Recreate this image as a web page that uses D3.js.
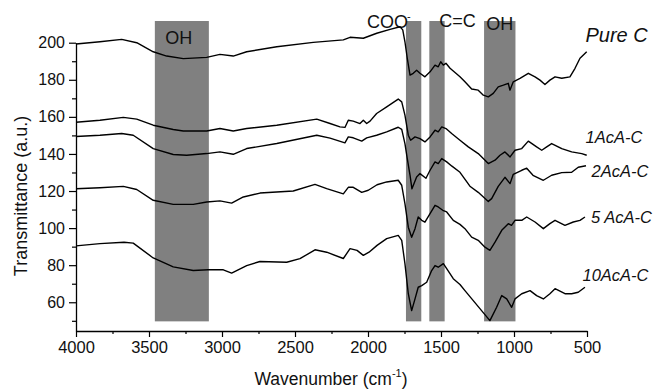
<!DOCTYPE html>
<html>
<head>
<meta charset="utf-8">
<script src="https://cdn.jsdelivr.net/npm/d3@7"></script>
<style>
  html, body { margin: 0; padding: 0; background: #fff; }
  svg { display: block; font-family: "Liberation Sans", Arial, sans-serif; }
</style>
</head>
<body>
<svg id="chart" width="654" height="389"></svg>
<script>
// ---- Data (wavenumber cm^-1, transmittance a.u.) ----
const pureC = [[4000,199.3],[3836,200.5],[3687,201.8],[3584,200],[3471,195.1],[3379,192.8],[3265,191.4],[3105,192.1],[3014,193.7],[2923,192.8],[2831,195.1],[2625,197.8],[2375,200.2],[2169,201.5],[2123,202.9],[2032,202.4],[1940,205.1],[1849,207.2],[1781,208.6],[1762,206.9],[1747,200.5],[1731,191.6],[1712,182.5],[1690,183.5],[1667,185.2],[1644,183.5],[1610,181.6],[1575,184.3],[1541,187.9],[1519,187],[1502,189.7],[1484,187.9],[1466,188.9],[1438,186.2],[1370,181.6],[1336,178.9],[1290,175],[1245,174.4],[1210,171.7],[1176,170.8],[1142,172.7],[1108,176.2],[1073,177.1],[1039,178.1],[1028,174.4],[1005,178.9],[959,180.8],[902,183.5],[856,181.6],[822,179.8],[788,177.5],[754,179.8],[719,181.6],[673,180.8],[617,181.6],[582,186.2],[548,191.6],[502,195.1]];

const acA1 = [[4000,157.1],[3836,158.2],[3676,159.7],[3584,158.8],[3471,155.5],[3334,153.2],[3265,152.4],[3105,152.4],[3014,153.7],[2923,152.4],[2831,153.7],[2625,155.5],[2351,158.8],[2260,156.4],[2192,154.6],[2158,154.3],[2135,158.2],[2101,157.7],[2055,156.4],[2032,158.2],[2009,156.4],[1986,157.7],[1941,161.8],[1872,165.4],[1793,169.6],[1769,168.1],[1747,160.9],[1724,150.1],[1708,147.4],[1678,149.2],[1644,148.3],[1610,146.5],[1575,149.2],[1541,152.8],[1519,151.9],[1495,154.6],[1466,153.7],[1427,151],[1370,147.4],[1313,143.8],[1245,140.2],[1176,134.8],[1130,136.6],[1096,139.3],[1062,141.1],[1027,138.4],[993,142],[947,142.9],[902,146.9],[845,143.8],[810,142],[776,143.8],[742,145.6],[673,142.9],[605,141.1],[536,140.2],[502,139.3]];

const acA2 = [[4000,149.4],[3836,150.1],[3687,151],[3608,150.1],[3471,142.9],[3334,139.7],[3242,139.3],[3105,140.2],[3014,141.1],[2923,139.8],[2831,142.9],[2625,145.6],[2351,150.1],[2260,148.5],[2158,146],[2135,149.2],[2101,148.7],[2043,146.9],[2009,148.7],[1941,150.1],[1872,151.9],[1793,154.4],[1769,153.3],[1747,145.6],[1731,137.5],[1712,128.5],[1699,121.2],[1667,127.6],[1644,129.4],[1603,126.9],[1575,131.2],[1541,135.7],[1519,134.8],[1495,137.5],[1461,135.7],[1425,133.4],[1370,130.1],[1302,122.6],[1245,119.3],[1176,114.4],[1153,115.9],[1108,122.5],[1062,127.4],[1027,124],[1005,129],[947,131.2],[913,132.3],[870,128.5],[799,125.8],[742,128.5],[673,129.9],[605,130.1],[560,132.8],[507,133.6]];

const acA5 = [[4000,121.2],[3836,121.8],[3676,122.5],[3584,120.8],[3471,115],[3334,112.8],[3197,112.8],[3105,114.1],[3014,114.7],[2934,113.5],[2854,116.8],[2740,118.9],[2512,120],[2363,123.6],[2283,121.3],[2169,118.5],[2135,122],[2101,122],[2043,119.3],[1998,120.4],[1938,123.4],[1872,124.9],[1793,125.8],[1769,123.1],[1747,113.2],[1724,100.5],[1701,95.1],[1678,99.7],[1656,106],[1632,104.2],[1610,103.2],[1575,107.8],[1541,112.3],[1519,111.4],[1488,109.6],[1461,108.7],[1416,104.2],[1370,102],[1336,99.7],[1290,95.1],[1245,93.4],[1199,89.7],[1165,88],[1130,92.4],[1084,98.8],[1039,102.4],[1017,101.5],[993,104.2],[947,104.2],[913,106],[856,103.3],[799,99.7],[754,102.4],[719,104.2],[651,101.5],[594,103.3],[548,104.2],[514,106]];

const acA10 = [[4000,90.4],[3836,91.6],[3671,92.4],[3608,91.9],[3471,83.9],[3334,79.1],[3197,77.1],[3095,77.5],[2991,77.5],[2934,75.7],[2831,79.8],[2740,82],[2557,81.6],[2466,83.5],[2363,88.3],[2283,87],[2169,83.6],[2123,88.9],[2075,88],[2032,85.3],[1993,87],[1938,90.7],[1872,94.3],[1793,96.1],[1769,93.4],[1747,80.8],[1724,64.6],[1701,55.5],[1678,61.8],[1656,68.1],[1632,69],[1598,70.8],[1564,77.1],[1541,79.8],[1519,78.9],[1484,80.8],[1461,78.1],[1416,72.7],[1370,69.6],[1336,66.3],[1279,60.9],[1222,55.5],[1165,50.1],[1119,57.3],[1084,63.6],[1050,61.8],[1016,57.3],[993,61.8],[947,64.6],[890,66.3],[845,63.6],[799,61.8],[754,64.6],[719,67.3],[651,64.6],[605,64.6],[560,65.4],[514,68.1]];

const seriesNames = ["Pure C", "1AcA-C", "2AcA-C", "5 AcA-C", "10AcA-C"];
const seriesData = [pureC, acA1, acA2, acA5, acA10];

// Highlighted bands: [from, to] wavenumber
const bandRanges = [[3460, 3090], [1740, 1635], [1580, 1475], [1205, 990]];
const bandLabels = ["OH", "COO", "C=C", "OH"];

const xTicks = [4000, 3500, 3000, 2500, 2000, 1500, 1000, 500];
const xMinorTicks = [3750, 3250, 2750, 2250, 1750, 1250, 750];
const yTicks = [60, 80, 100, 120, 140, 160, 180, 200];
const yMinorTicks = [50, 70, 90, 110, 130, 150, 170, 190];

// ---- Layout ----
const svg = d3.select("#chart");
const x = d3.scaleLinear().domain([4000, 500]).range([76, 587]);
const y = d3.scaleLinear().domain([44.5, 200]).range([331, 42.7]);
const bandTop = 211.7, bandBottom = 49.7;

// Bands
svg.append("g").selectAll("rect").data(bandRanges).join("rect")
  .attr("x", d => x(d[0]))
  .attr("width", d => x(d[1]) - x(d[0]))
  .attr("y", y(bandTop))
  .attr("height", y(bandBottom) - y(bandTop))
  .attr("fill", "#808080");

// Band labels
const bandLabelPos = [
  {dx: -3, y: 43.5},
  {dx: 0, y: 28},
  {dx: 6, y: 27},
  {dx: 0, y: 30}
];
bandLabels.forEach((t, i) => {
  const cx = (x(bandRanges[i][0]) + x(bandRanges[i][1])) / 2 + bandLabelPos[i].dx;
  if (i === 1) {
    svg.append("text")
      .attr("x", x(bandRanges[i][0]) + 2).attr("y", bandLabelPos[i].y)
      .attr("text-anchor", "end").attr("font-size", 18).attr("fill", "#111").text(t);
    svg.append("text")
      .attr("x", x(bandRanges[i][0]) + 1).attr("y", bandLabelPos[i].y - 8)
      .attr("font-size", 11).attr("fill", "#111").text("-");
  } else if (i === 2) {
    svg.append("text")
      .attr("x", x(bandRanges[i][0]) + 10).attr("y", bandLabelPos[i].y)
      .attr("font-size", 18).attr("fill", "#111").text(t);
  } else {
    svg.append("text")
      .attr("x", cx).attr("y", bandLabelPos[i].y)
      .attr("text-anchor", "middle").attr("font-size", 18).attr("fill", "#111").text(t);
  }
});

// Lines
const line = d3.line().x(d => x(d[0])).y(d => y(d[1]));
svg.append("g").selectAll("path").data(seriesData).join("path")
  .attr("d", line)
  .attr("fill", "none")
  .attr("stroke", "#000")
  .attr("stroke-width", 1.4)
  .attr("stroke-linejoin", "round");

// Series labels
const seriesLabelPos = [
  {x: 585.5, y: 42, size: 20},
  {x: 585.5, y: 143.3, size: 16.5},
  {x: 591.5, y: 176.7, size: 16.5},
  {x: 591, y: 222.7, size: 16.5},
  {x: 582.5, y: 281, size: 16.5}
];
svg.append("g").selectAll("text").data(seriesNames).join("text")
  .attr("x", (d, i) => seriesLabelPos[i].x)
  .attr("y", (d, i) => seriesLabelPos[i].y)
  .attr("font-size", (d, i) => seriesLabelPos[i].size)
  .attr("font-style", "italic")
  .attr("fill", "#111")
  .text(d => d);

// Axes
const xAxis = svg.append("g").attr("transform", "translate(0,331)")
  .call(d3.axisBottom(x).tickValues(xTicks).tickFormat(d3.format("d")).tickSize(6).tickSizeOuter(0).tickPadding(4));
svg.append("g").attr("transform", "translate(0,331)")
  .call(d3.axisBottom(x).tickValues(xMinorTicks).tickSize(3).tickFormat(""))
  .call(g => g.select(".domain").remove());
const yAxis = svg.append("g").attr("transform", "translate(76,0)")
  .call(d3.axisLeft(y).tickValues(yTicks).tickFormat(d3.format("d")).tickSize(7).tickSizeOuter(0).tickPadding(4));
svg.append("g").attr("transform", "translate(76,0)")
  .call(d3.axisLeft(y).tickValues(yMinorTicks).tickSize(4).tickFormat(""))
  .call(g => g.select(".domain").remove());

svg.selectAll(".domain").attr("stroke", "#000").attr("stroke-width", 1.3);
svg.selectAll(".tick line").attr("stroke", "#000").attr("stroke-width", 1.2);
xAxis.selectAll("text").attr("font-size", 16.5).attr("fill", "#111").attr("font-family", "Liberation Sans, Arial, sans-serif");
yAxis.selectAll("text").attr("font-size", 16).attr("fill", "#111").attr("font-family", "Liberation Sans, Arial, sans-serif");

// Axis titles
const xt = svg.append("text").attr("x", 331).attr("y", 385)
  .attr("text-anchor", "middle").attr("font-size", 17.5).attr("fill", "#111");
xt.append("tspan").text("Wavenumber (cm");
xt.append("tspan").attr("font-size", 11).attr("dy", -8).text("-1");
xt.append("tspan").attr("dy", 8).text(")");

svg.append("text")
  .attr("transform", "translate(27,196) rotate(-90)")
  .attr("text-anchor", "middle").attr("font-size", 18).attr("fill", "#111")
  .text("Transmittance (a.u.)");
</script>
</body>
</html>
